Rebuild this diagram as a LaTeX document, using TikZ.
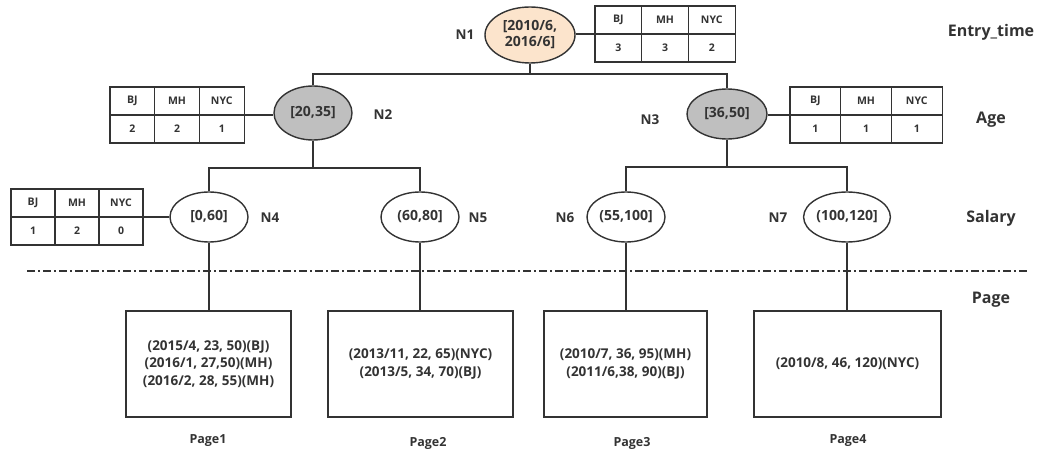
\documentclass[tikz,border=0pt]{standalone}
\usepackage{fontspec}
\setmainfont{Open Sans}
\usetikzlibrary{calc,shapes.geometric}
\definecolor{ink}{HTML}{333333}
\definecolor{peach}{HTML}{FCE4CC}
\definecolor{grayfill}{HTML}{BFBFBF}
\tikzset{
  ln/.style={draw=ink, line width=1.2pt},
  ell/.style={ellipse, draw=ink, line width=1.4pt, inner sep=0pt, font=\bfseries\fontsize{14}{16}\selectfont, text=ink, align=center},
  cell/.style={draw=ink, line width=1.2pt, inner sep=0pt, minimum height=28pt, font=\bfseries\fontsize{10.5}{12}\selectfont, text=ink, anchor=center},
  nlab/.style={font=\bfseries\fontsize{13.5}{15}\selectfont, text=ink},
  lvl/.style={font=\bfseries\fontsize{16}{18}\selectfont, text=ink},
  pagebox/.style={draw=ink, line width=1.3pt, inner sep=0pt, minimum height=106pt, align=center, font=\bfseries\fontsize{13.5}{17.5}\selectfont, text=ink},
  plab/.style={font=\bfseries\fontsize{12.5}{14}\selectfont, text=ink}
}
% #1 name, #2 left x, #3 divider y, #4 col width, #5 #6 #7 values
\newcommand\stattable[7]{%
  \node[cell, minimum width=#4pt] (#1a) at ({#2+0.5*#4},{#3-14}) {BJ};
  \node[cell, minimum width=#4pt] (#1b) at ({#2+1.5*#4},{#3-14}) {MH};
  \node[cell, minimum width=#4pt] (#1c) at ({#2+2.5*#4},{#3-14}) {NYC};
  \node[cell, minimum width=#4pt] (#1d) at ({#2+0.5*#4},{#3+14}) {#5};
  \node[cell, minimum width=#4pt] (#1e) at ({#2+1.5*#4},{#3+14}) {#6};
  \node[cell, minimum width=#4pt] (#1f) at ({#2+2.5*#4},{#3+14}) {#7};
  \coordinate (#1L) at (#2,#3);
  \coordinate (#1R) at ({#2+3*#4},#3);
}
\begin{document}
\begin{tikzpicture}[x=1pt,y=-1pt]
\useasboundingbox (0,0) rectangle (1038,454);
% ellipses
\node[ell, fill=peach, minimum width=90pt, minimum height=56pt] (n1) at (530,35) {[2010/6,\\2016/6]};
\node[ell, fill=grayfill, minimum width=78pt, minimum height=54pt] (n2) at (313,113) {[20,35]};
\node[ell, fill=grayfill, minimum width=80pt, minimum height=50pt] (n3) at (727,114) {[36,50]};
\node[ell, minimum width=78pt, minimum height=50pt] (n4) at (209,217) {[0,60]};
\node[ell, minimum width=78pt, minimum height=50pt] (n5) at (420,217) {(60,80]};
\node[ell, minimum width=78pt, minimum height=50pt] (n6) at (626,217) {(55,100]};
\node[ell, minimum width=85pt, minimum height=50pt] (n7) at (847,217) {(100,120]};
% node labels
\node[nlab] (l1) at (465,35) {N1};
\node[nlab] (l2) at (383,115) {N2};
\node[nlab] (l3) at (650,120) {N3};
\node[nlab] (l4) at (270,218) {N4};
\node[nlab] (l5) at (478,218) {N5};
\node[nlab] (l6) at (565,218) {N6};
\node[nlab] (l7) at (778,218) {N7};
% level labels
\node[lvl] (e1) at (991,32) {Entry\_time};
\node[lvl] (e2) at (991,120) {Age};
\node[lvl] (e3) at (991,218) {Salary};
\node[lvl] (e4) at (991,300) {Page};
% tables
\stattable{t1}{595}{34}{46.7}{3}{3}{2}
\stattable{t2}{110}{115}{44.7}{2}{2}{1}
\stattable{t3}{790}{115}{50.7}{1}{1}{1}
\stattable{t4}{11}{217}{44}{1}{2}{0}
\draw[ln] (n1.east |- t1L) -- (t1L);
\draw[ln] (t2R) -- (n2.west |- t2R);
\draw[ln] (n3.east |- t3L) -- (t3L);
\draw[ln] (t4R) -- (n4.west |- t4R);
% tree edges
\coordinate (b1) at (530,74);
\coordinate (b2) at (313,168);
\coordinate (b3) at (727,167);
\draw[ln] (n1.south) -- (b1);
\draw[ln] (n2.north) |- (b1) -| (n3.north);
\draw[ln] (n2.south) -- (b2);
\draw[ln] (n4.north) |- (b2) -| (n5.north);
\draw[ln] (n3.south) -- (b3);
\draw[ln] (n6.north) |- (b3) -| (n7.north);
% dash-dot separator
\coordinate (s1) at (27,271);
\coordinate (s2) at (1027,271);
\draw[draw=ink, line width=1.3pt, dash pattern=on 8pt off 3pt on 2pt off 3pt] (s1) -- (s2);
% pages
\node[pagebox, minimum width=165pt] (p1) at (208.5,364) {(2015/4, 23, 50)(BJ)\\(2016/1, 27,50)(MH)\\(2016/2, 28, 55)(MH)};
\node[pagebox, minimum width=185pt] (p2) at (420.5,364) {(2013/11, 22, 65)(NYC)\\(2013/5, 34, 70)(BJ)};
\node[pagebox, minimum width=163pt] (p3) at (625.5,364) {(2010/7, 36, 95)(MH)\\(2011/6,38, 90)(BJ)};
\node[pagebox, minimum width=187pt] (p4) at (847.5,364) {(2010/8, 46, 120)(NYC)};
\draw[ln] (n4.south) -- (n4.south |- p1.north);
\draw[ln] (n5.south) -- (n5.south |- p2.north);
\draw[ln] (n6.south) -- (n6.south |- p3.north);
\draw[ln] (n7.south) -- (n7.south |- p4.north);
\node[plab] (q1) at (208,441) {Page1};
\node[plab] (q2) at (428,443) {Page2};
\node[plab] (q3) at (632,443) {Page3};
\node[plab] (q4) at (848,441) {Page4};
\end{tikzpicture}
\end{document}
